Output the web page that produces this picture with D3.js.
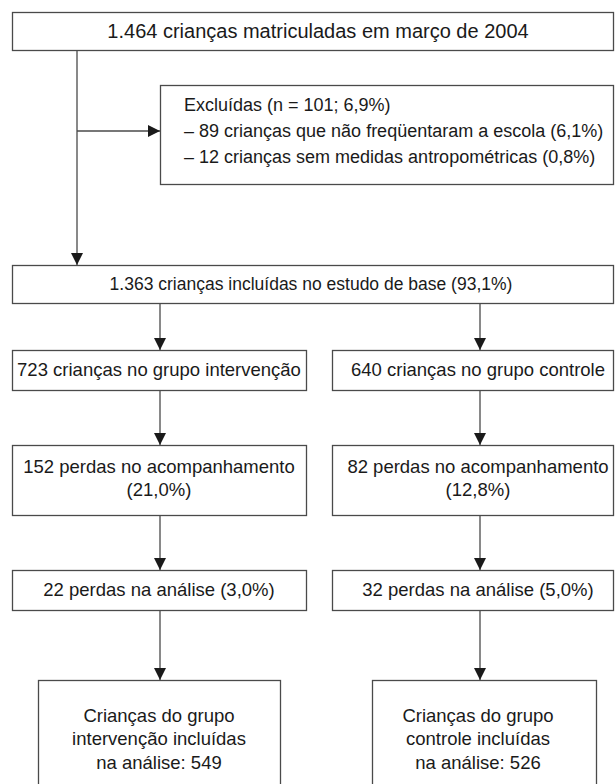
<!DOCTYPE html>
<html>
<head>
<meta charset="utf-8">
<script src="https://cdn.jsdelivr.net/npm/d3@7"></script>
<style>
  body { margin: 0; background: #fff; }
  svg { display: block; }
  text { font-family: "Liberation Sans", Arial, Helvetica, sans-serif; fill: #1a1a1a; }
</style>
</head>
<body>
<svg id="chart" width="615" height="784"></svg>
<script>
// box texts, one array per row of the flowchart
const topText = ['1.464 crianças matriculadas em março de 2004'];
const excludedText = [
  'Excluídas (n = 101; 6,9%)',
  '– 89 crianças que não freqüentaram a escola (6,1%)',
  '– 12 crianças sem medidas antropométricas (0,8%)'
];
const baseText = ['1.363 crianças incluídas no estudo de base (93,1%)'];
const groupText = [
  ['723 crianças no grupo intervenção'],
  ['640 crianças no grupo controle']
];
const lossText = [
  ['152 perdas no acompanhamento', '(21,0%)'],
  ['82 perdas no acompanhamento', '(12,8%)']
];
const analysisText = [
  ['22 perdas na análise (3,0%)'],
  ['32 perdas na análise (5,0%)']
];
const finalText = [
  ['Crianças do grupo', 'intervenção incluídas', 'na análise: 549'],
  ['Crianças do grupo', 'controle incluídas', 'na análise: 526']
];

const svg = d3.select('#chart');
const stroke = '#4a4a4a';
const fontSize = 18.5;
const lineGap = 23.5;

// two columns: intervention and control
const col = d3.scalePoint().domain([0, 1]).range([160, 480]);

svg.append('defs').append('marker')
  .attr('id', 'head')
  .attr('viewBox', '0 0 12 12')
  .attr('refX', 12).attr('refY', 6)
  .attr('markerWidth', 13).attr('markerHeight', 12)
  .attr('markerUnits', 'userSpaceOnUse')
  .attr('orient', 'auto')
  .append('path')
  .attr('d', 'M0,0L12,6L0,12Z')
  .attr('fill', '#1a1a1a');

function box(x0, y0, x1, y1) {
  svg.append('rect')
    .attr('x', x0 + 0.5).attr('y', y0 + 0.5)
    .attr('width', x1 - x0).attr('height', y1 - y0)
    .attr('fill', 'none')
    .attr('stroke', stroke)
    .attr('stroke-width', 1.3);
}

function lines(arr, x, cy, anchor, size) {
  const n = arr.length;
  arr.forEach((t, i) => {
    svg.append('text')
      .attr('x', x)
      .attr('y', cy + (i - (n - 1) / 2) * lineGap)
      .attr('dy', '0.35em')
      .attr('text-anchor', anchor || 'middle')
      .attr('font-size', size || fontSize)
      .text(t);
  });
}

function arrow(x0, y0, x1, y1) {
  svg.append('line')
    .attr('x1', x0).attr('y1', y0)
    .attr('x2', x1).attr('y2', y1)
    .attr('stroke', stroke)
    .attr('stroke-width', 1.3)
    .attr('marker-end', 'url(#head)');
}

// row bounds
const rows = {
  top: [12, 50],
  excl: [85, 184],
  base: [265, 303],
  group: [350, 390],
  loss: [445, 515],
  analysis: [570, 610],
  final: [680, 800]
};
const rightEdge = 613;
const mid = d => (d[0] + d[1]) / 2;

// top box
box(12, rows.top[0], rightEdge, rows.top[1]);
lines(topText, 318, mid(rows.top), 'middle', 20);

// exclusions
box(160, rows.excl[0], rightEdge, rows.excl[1]);
excludedText.forEach((t, i) => lines([t], 184, 105 + i * 26, 'start', 18));

const trunkX = 77;
const branchY = 131;
svg.append('line')
  .attr('x1', trunkX).attr('y1', rows.top[1])
  .attr('x2', trunkX).attr('y2', branchY)
  .attr('stroke', stroke).attr('stroke-width', 1.3);
arrow(trunkX, branchY, 160, branchY);
arrow(trunkX, branchY, trunkX, rows.base[0]);

// base
box(12, rows.base[0], rightEdge, rows.base[1]);
lines(baseText, 311, mid(rows.base), 'middle', 17.5);

// group rows
const half = [[12, 306], [332, rightEdge]];
const finalHalf = [[38, 280], [372, 596]];
const textX = [159, 478];

function groupRow(texts, r, prev, bounds, cy) {
  texts.forEach((t, i) => {
    arrow(col(i), prev[1], col(i), r[0]);
    box(bounds[i][0], r[0], bounds[i][1], r[1]);
    lines(t, textX[i], cy || mid(r));
  });
}

groupRow(groupText, rows.group, rows.base, half);
groupRow(lossText, rows.loss, rows.group, half, mid(rows.loss) - 2);
groupRow(analysisText, rows.analysis, rows.loss, half);
groupRow(finalText, rows.final, rows.analysis, finalHalf, 739);
</script>
</body>
</html>
